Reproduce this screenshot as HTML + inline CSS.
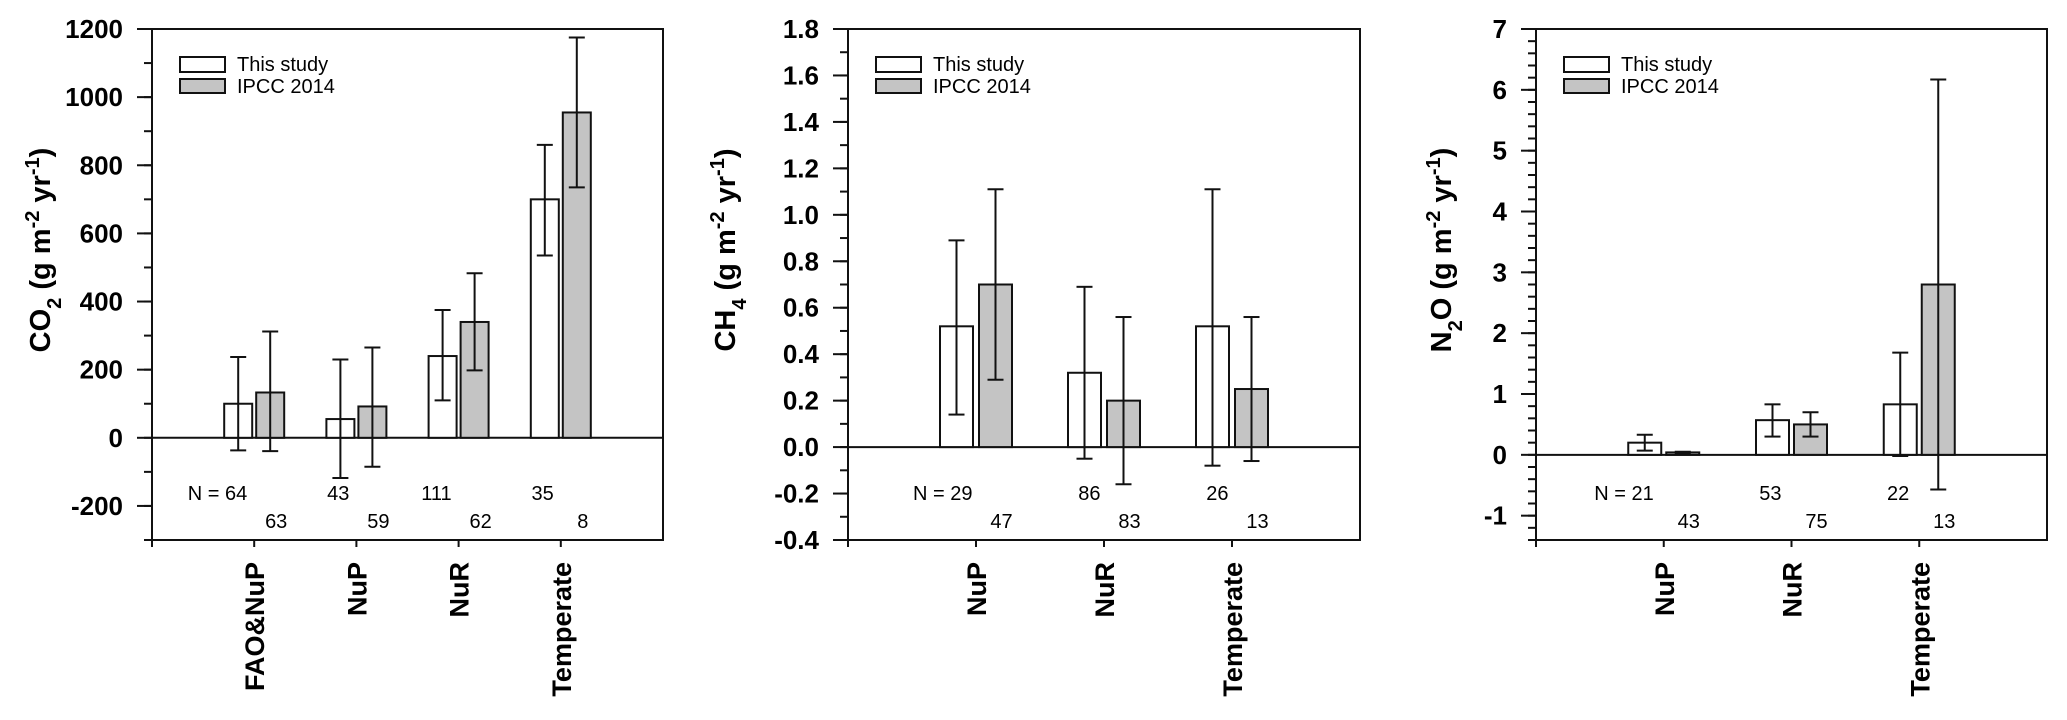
<!DOCTYPE html>
<html><head><meta charset="utf-8"><style>
html,body{margin:0;padding:0;background:#fff;}
svg{display:block;font-family:"Liberation Sans",Arial,sans-serif;}
</style></head><body>
<svg id="chart" width="2067" height="720" viewBox="0 0 2067 720" xmlns="http://www.w3.org/2000/svg"></svg>
<script>
// ---- Panel A: CO2 ----
const co2Categories = ["FAO&NuP","NuP","NuR","Temperate"];
const co2This = [100, 55, 240, 700];
const co2ThisUp = [237, 230, 375, 860];
const co2ThisLo = [-37, -118, 110, 535];
const co2Ipcc = [133, 92, 340, 955];
const co2IpccUp = [312, 265, 483, 1175];
const co2IpccLo = [-39, -85, 198, 735];
const co2NThis = ["64","43","111","35"];
const co2NIpcc = ["63","59","62","8"];
const co2Ticks = ["1200","1000","800","600","400","200","0","-200"];
const co2TickVals = [1200,1000,800,600,400,200,0,-200];

// ---- Panel B: CH4 ----
const ch4Categories = ["NuP","NuR","Temperate"];
const ch4This = [0.52, 0.32, 0.52];
const ch4ThisUp = [0.89, 0.69, 1.11];
const ch4ThisLo = [0.14, -0.05, -0.08];
const ch4Ipcc = [0.70, 0.20, 0.25];
const ch4IpccUp = [1.11, 0.56, 0.56];
const ch4IpccLo = [0.29, -0.16, -0.06];
const ch4NThis = ["29","86","26"];
const ch4NIpcc = ["47","83","13"];
const ch4Ticks = ["1.8","1.6","1.4","1.2","1.0","0.8","0.6","0.4","0.2","0.0","-0.2","-0.4"];
const ch4TickVals = [1.8,1.6,1.4,1.2,1.0,0.8,0.6,0.4,0.2,0.0,-0.2,-0.4];

// ---- Panel C: N2O ----
const n2oCategories = ["NuP","NuR","Temperate"];
const n2oThis = [0.20, 0.57, 0.83];
const n2oThisUp = [0.33, 0.83, 1.68];
const n2oThisLo = [0.07, 0.30, -0.02];
const n2oIpcc = [0.04, 0.50, 2.80];
const n2oIpccUp = [0.05, 0.70, 6.17];
const n2oIpccLo = [0.03, 0.30, -0.57];
const n2oNThis = ["21","53","22"];
const n2oNIpcc = ["43","75","13"];
const n2oTicks = ["7","6","5","4","3","2","1","0","-1"];
const n2oTickVals = [7,6,5,4,3,2,1,0,-1];

const NS = "http://www.w3.org/2000/svg";
const svg = document.getElementById("chart");
function el(tag, attrs, parent){
  const e = document.createElementNS(NS, tag);
  for (const k in attrs) e.setAttribute(k, attrs[k]);
  (parent||svg).appendChild(e);
  return e;
}

function panel(cfg){
  const g = el("g", {});
  
  
  const L = cfg.left, R = cfg.right, T = 29, B = 540;
  const y = v => T + (cfg.ymax - v) / (cfg.ymax - cfg.ymin) * (B - T);
  const n = cfg.cats.length;
  const slot = (R - L) / (n + 1);
  const x = i => L + slot * (i + 1);
  const bw = cfg.bw, gap = cfg.gap;

  // frame
  const frame = el("rect", {x:L, y:T, width:R-L, height:B-T, fill:"none", stroke:"#111", "stroke-width":2}, g);
  
  
  // zero line
  const zl = el("line", {x1:L, x2:R, y1:y(0), y2:y(0), stroke:"#111", "stroke-width":2}, g);
  
  

  // y ticks: minor
  const ng = Math.round((cfg.ymax - cfg.ymin) / cfg.minor);
  for (let k = 0; k <= ng; k++){
    const v = cfg.ymin + k * cfg.minor;
    const t = el("line", {x1:L-8, x2:L, y1:y(v), y2:y(v), stroke:"#111", "stroke-width":2}, g);
    
    
  }
  cfg.tickVals.forEach((v, i) => {
    const t = el("line", {x1:L-15, x2:L, y1:y(v), y2:y(v), stroke:"#111", "stroke-width":2}, g);
    
    
    const tx = el("text", {x:L-29, y:y(v)+9, "text-anchor":"end", "font-size":26, "font-weight":"bold", fill:"#000"}, g);
    tx.textContent = cfg.ticks[i];
    
    
  });

  // y title
  const yt = el("text", {transform:`translate(${cfg.titleX},250) rotate(-90)`, "text-anchor":"middle", "font-size":29, "font-weight":"bold", fill:"#000"}, g);
  yt.innerHTML = cfg.title;
  
  

  // x ticks
  const c0 = el("line", {x1:L, x2:L, y1:B, y2:B+7, stroke:"#111", "stroke-width":2}, g);
  
  
  cfg.cats.forEach((c, i) => {
    const cx = x(i);
    const t = el("line", {x1:cx, x2:cx, y1:B, y2:B+7, stroke:"#111", "stroke-width":2}, g);
    
    
    const lb = el("text", {transform:`translate(${cx+10},562) rotate(-90)`, "text-anchor":"end", "font-size":27, "font-weight":"bold", fill:"#000"}, g);
    lb.textContent = c;
    
    

    const series = [
      {v:cfg.a[i], up:cfg.aUp[i], lo:cfg.aLo[i], fill:"#ffffff", x0:cx - gap/2 - bw, nm:'bar-this-study'},
      {v:cfg.b[i], up:cfg.bUp[i], lo:cfg.bLo[i], fill:"#c4c4c4", x0:cx + gap/2, nm:'bar-ipcc-2014'}
    ];
    series.forEach(s => {
      const top = Math.min(y(s.v), y(0)), h = Math.abs(y(s.v) - y(0));
      const r = el("rect", {x:s.x0, y:top, width:bw, height:Math.max(h,1), fill:s.fill, stroke:"#111", "stroke-width":2}, g);
      
      
      const mx = s.x0 + bw/2;
      const eg = el("g", {stroke:"#111", "stroke-width":2}, g);
      
      
      el("line", {x1:mx, x2:mx, y1:y(s.up), y2:y(s.lo)}, eg);
      el("line", {x1:mx-8, x2:mx+8, y1:y(s.up), y2:y(s.up)}, eg);
      el("line", {x1:mx-8, x2:mx+8, y1:y(s.lo), y2:y(s.lo)}, eg);
    });

    // N labels
    const wc = cx - gap/2 - bw/2, gc = cx + gap/2 + bw/2;
    const n1 = el("text", {x:wc + cfg.n1off, y:500, "text-anchor":"end", "font-size":20, fill:"#000", "xml:space":"preserve"}, g);
    n1.textContent = (i === 0 ? cfg.nPrefix : "") + cfg.nA[i];
    
    
    const n2 = el("text", {x:gc + 6, y:528, "text-anchor":"middle", "font-size":20, fill:"#000"}, g);
    n2.textContent = cfg.nB[i];
    
    
  });

  // legend
  const lg = el("g", {}, g);
  
  
  const lx = L + 28;
  const r1 = el("rect", {x:lx, y:57, width:45, height:15, fill:"#fff", stroke:"#111", "stroke-width":2}, lg);
  
  
  const r2 = el("rect", {x:lx, y:79, width:45, height:14, fill:"#c4c4c4", stroke:"#111", "stroke-width":2}, lg);
  
  
  const t1 = el("text", {x:lx+57, y:71, "font-size":20, fill:"#000"}, lg);
  t1.textContent = "This study";
  
  
  const t2 = el("text", {x:lx+57, y:93, "font-size":20, fill:"#000"}, lg);
  t2.textContent = "IPCC 2014";
  
  
}

panel({name:"co2-panel", left:152, right:663, ymin:-300, ymax:1200, minor:100,
  ticks:co2Ticks, tickVals:co2TickVals, cats:co2Categories,
  a:co2This, aUp:co2ThisUp, aLo:co2ThisLo, b:co2Ipcc, bUp:co2IpccUp, bLo:co2IpccLo,
  nA:co2NThis, nB:co2NIpcc, nPrefix:"N = ", n1off:9, bw:28, gap:4, titleX:50,
  title:'CO<tspan baseline-shift="sub" font-size="20">2</tspan> (g m<tspan baseline-shift="super" font-size="20">-2</tspan> yr<tspan baseline-shift="super" font-size="20">-1</tspan>)'});

panel({name:"ch4-panel", left:848, right:1360, ymin:-0.4, ymax:1.8, minor:0.1,
  ticks:ch4Ticks, tickVals:ch4TickVals, cats:ch4Categories,
  a:ch4This, aUp:ch4ThisUp, aLo:ch4ThisLo, b:ch4Ipcc, bUp:ch4IpccUp, bLo:ch4IpccLo,
  nA:ch4NThis, nB:ch4NIpcc, nPrefix:"N =  ", n1off:16, bw:33, gap:6, titleX:735,
  title:'CH<tspan baseline-shift="sub" font-size="20">4</tspan> (g m<tspan baseline-shift="super" font-size="20">-2</tspan> yr<tspan baseline-shift="super" font-size="20">-1</tspan>)'});

panel({name:"n2o-panel", left:1536, right:2047, ymin:-1.4, ymax:7, minor:0.2,
  ticks:n2oTicks, tickVals:n2oTickVals, cats:n2oCategories,
  a:n2oThis, aUp:n2oThisUp, aLo:n2oThisLo, b:n2oIpcc, bUp:n2oIpccUp, bLo:n2oIpccLo,
  nA:n2oNThis, nB:n2oNIpcc, nPrefix:"N = ", n1off:9, bw:33, gap:5, titleX:1451,
  title:'N<tspan baseline-shift="sub" font-size="20">2</tspan>O (g m<tspan baseline-shift="super" font-size="20">-2</tspan> yr<tspan baseline-shift="super" font-size="20">-1</tspan>)'});
</script>
</body></html>
